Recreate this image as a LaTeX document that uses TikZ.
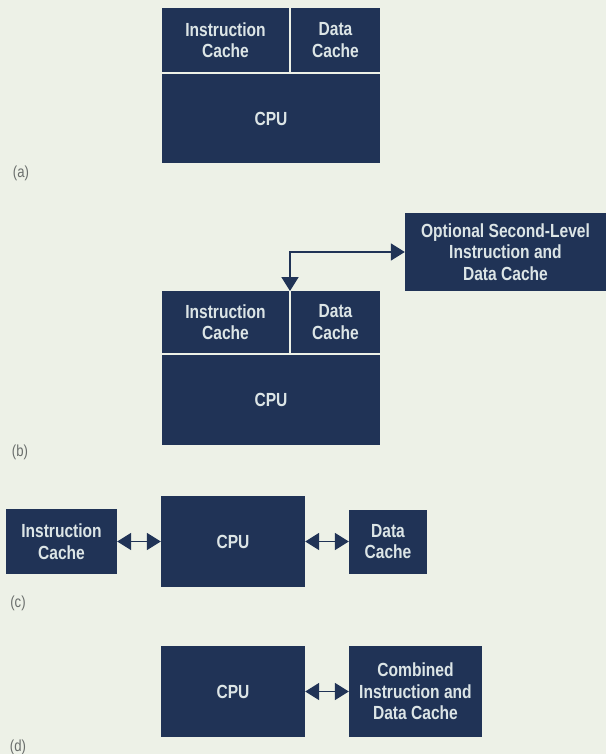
\documentclass[tikz,border=0pt]{standalone}
\usepackage{fontspec}
\setmainfont{Liberation Sans}[FakeStretch=0.82]
\newfontfamily\boxfont{Liberation Sans}[FakeStretch=0.82]
\usetikzlibrary{arrows.meta}
\definecolor{bg}{HTML}{EDF1E7}
\definecolor{navy}{HTML}{203356}
\definecolor{boxtext}{HTML}{DCE5E6}
\definecolor{lbl}{HTML}{6A6E6C}
\begin{document}
\begin{tikzpicture}[x=1pt,y=-1pt,
  box/.style={fill=navy, text=boxtext, inner sep=0pt, align=center,
    font=\boxfont\bfseries\fontsize{19}{21.5}\selectfont},
  lab/.style={text=lbl, font=\fontsize{16}{18}\selectfont, inner sep=0pt},
  dbl/.style={draw=navy, line width=1.8pt,
    {Triangle[length=14pt,width=17pt]}-{Triangle[length=14pt,width=17pt]}}]
\fill[bg] (0,0) rectangle (606,754);
\useasboundingbox (0,0) rectangle (606,754);
% (a)
\node[box, minimum width=127pt, minimum height=64pt] (ica) at (225.5,40) {Instruction\\Cache};
\node[box, minimum width=89pt, minimum height=64pt] (dca) at (335.5,40) {Data\\Cache};
\node[box, minimum width=218pt, minimum height=89pt] (cpua) at (271,118.5) {CPU};
\node[lab] (la) at (21,173) {(a)};
% (b)
\node[box, minimum width=127pt, minimum height=62pt] (icb) at (225.5,322) {Instruction\\Cache};
\node[box, minimum width=89pt, minimum height=62pt] (dcb) at (335.5,322) {Data\\Cache};
\node[box, minimum width=218pt, minimum height=90pt] (cpub) at (271,400) {CPU};
\node[box, minimum width=201pt, minimum height=78pt] (opt) at (505.5,252) {Optional Second-Level\\Instruction and\\Data Cache};
\coordinate (bjoin) at (290,291);
\coordinate (bcorner) at (290,252);
\draw[dbl] (bjoin) -- (bcorner) -- (opt.west);
\node[lab] (lb) at (20,452) {(b)};
% (c)
\node[box, minimum width=111pt, minimum height=65pt] (icc) at (61.5,541.5) {Instruction\\Cache};
\node[box, minimum width=144pt, minimum height=91pt] (cpuc) at (233,541.5) {CPU};
\node[box, minimum width=78pt, minimum height=64pt] (dcc) at (388,541.5) {Data\\Cache};
\draw[dbl] (icc.east) -- (cpuc.west);
\draw[dbl] (cpuc.east) -- (dcc.west);
\node[lab] (lc) at (18,603) {(c)};
% (d)
\node[box, minimum width=144pt, minimum height=91pt] (cpud) at (233,691.5) {CPU};
\node[box, minimum width=133pt, minimum height=91pt] (comb) at (415.5,691.5) {Combined\\Instruction and\\Data Cache};
\draw[dbl] (cpud.east) -- (comb.west);
\node[lab] (ld) at (18,747) {(d)};
\end{tikzpicture}
\end{document}
